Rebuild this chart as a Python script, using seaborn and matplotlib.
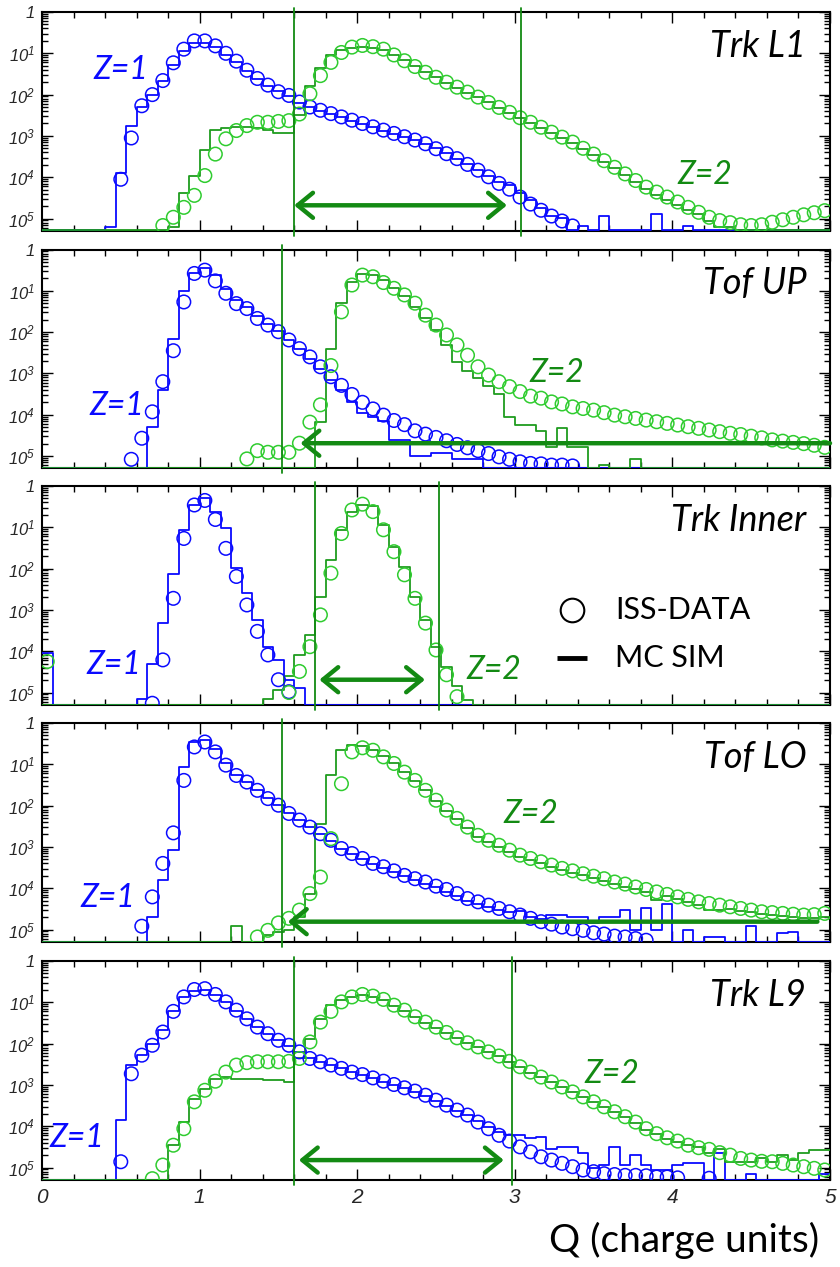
import numpy as np
import matplotlib
matplotlib.use("Agg")
import matplotlib.pyplot as plt
import matplotlib.transforms as mtransforms
from matplotlib.ticker import LogLocator, NullFormatter, MultipleLocator
import seaborn as sns

# ---------------------------------------------------------------------------
# Data: log10 of normalised counts per bin.  Bins are 1/15 charge unit wide
# over Q = 0..5 (75 bins); each list starts at the given bin index.
# None = empty bin.
# ---------------------------------------------------------------------------
N_BINS = 75
Q_MAX = 5.0

panel_names = ["Trk L1", "Tof UP", "Trk Inner", "Tof LO", "Trk L9"]

# ---- Trk L1 ----
l1_z1_data_start = 7
l1_z1_data = [-4.05, -3.05, -2.27, -2.0, -1.66, -1.23, -0.9, -0.7, -0.7, -0.82,
              -1.0, -1.19, -1.41, -1.61, -1.77, -1.93, -2.02, -2.18, -2.30, -2.38,
              -2.46, -2.54, -2.62, -2.70, -2.78, -2.86, -2.94, -3.02, -3.10, -3.19,
              -3.31, -3.43, -3.55, -3.69, -3.83, -3.99, -4.15, -4.29, -4.48, -4.65,
              -4.80, -4.94, -5.06, -5.18]
l1_z1_mc_start = 6
l1_z1_mc = [-5.2, -3.9, -2.75, -2.3, -2.02, -1.68, -1.28, -0.95, -0.75, -0.74,
            -0.84, -1.03, -1.2, -1.42, -1.62, -1.78, -1.92, -2.04, -2.2, -2.3,
            -2.4, -2.47, -2.55, -2.63, -2.7, -2.78, -2.87, -2.95, -3.02, -3.1,
            -3.2, -3.3, -3.42, -3.55, -3.68, -3.82, -3.97, -4.12, -4.2, -4.39,
            -4.55, -4.75, -4.95, -4.98, None, -5.19, None, -4.93, None, None,
            None, None, -4.88, None, None, -5.19]
l1_z2_data_start = 11
l1_z2_data = [-5.17, -4.97, -4.73, -4.44, -3.96, -3.44, -3.07, -2.87, -2.75, -2.67,
              -2.67, -2.65, -2.63, -2.47, -1.98, -1.54, -1.22, -0.98, -0.85, -0.81,
              -0.84, -0.90, -1.04, -1.18, -1.32, -1.46, -1.58, -1.70, -1.82, -1.94,
              -2.06, -2.19, -2.31, -2.43, -2.56, -2.67, -2.79, -2.91, -3.03, -3.15,
              -3.30, -3.44, -3.60, -3.76, -3.92, -4.08, -4.24, -4.36, -4.48, -4.60,
              -4.73, -4.85, -4.97, -5.05, -5.10, -5.15, -5.17, -5.15, -5.09, -5.03,
              -4.97, -4.91, -4.86, -4.81]
l1_z2_mc_start = 12
l1_z2_mc = [-5.2, -4.38, -3.98, -3.35, -2.85, -2.80, -2.78, -2.78, -2.80, -2.85,
            -2.92, -2.92, -2.50, -1.80, -1.35, -1.05, -0.93, -0.87, -0.84, -0.86,
            -0.93, -1.05, -1.17, -1.31, -1.45, -1.58, -1.71, -1.83, -1.95, -2.07,
            -2.19, -2.32, -2.44, -2.56, -2.68, -2.80, -2.92, -3.04, -3.16, -3.31,
            -3.46, -3.62, -3.78, -3.95, -4.12, -4.28, -4.42, -4.55, -4.68, -4.80,
            -4.88, -5.05, -5.2, -5.2]

# ---- Tof UP ----
up_z1_data_start = 8
up_z1_data = [-5.08, -4.57, -3.93, -3.20, -2.45, -1.27, -0.58, -0.50, -0.76, -1.06,
              -1.31, -1.43, -1.67, -1.83, -1.99, -2.19, -2.40, -2.60, -2.84, -3.08,
              -3.29, -3.51, -3.70, -3.86, -4.01, -4.14, -4.24, -4.39, -4.47, -4.55,
              -4.63, -4.72, -4.80, -4.87, -4.94, -5.02, -5.08, -5.14, -5.18, -5.19,
              -5.22, -5.22, -5.24]
up_z1_mc_start = 10
up_z1_mc = [-4.30, -3.41, -2.16, -1.00, -0.57, -0.45, -0.62, -0.95, -1.22, -1.40,
            -1.62, -1.80, -1.98, -2.20, -2.42, -2.65, -2.90, -3.15, -3.40, -3.70,
            -3.95, -4.05, -4.15, -4.60, -4.62, -5.0, -5.0, -4.93, -4.93, -5.07,
            -5.07, -5.07]
up_z2_data_start = 19
up_z2_data = [-5.07, -4.87, -4.91, -4.91, -4.91, -4.69, -4.18, -3.76, -2.81, -1.51,
              -0.86, -0.62, -0.66, -0.80, -0.94, -1.10, -1.30, -1.59, -1.83, -2.07,
              -2.31, -2.56, -2.84, -3.04, -3.20, -3.32, -3.44, -3.55, -3.60, -3.69,
              -3.74, -3.81, -3.85, -3.89, -3.95, -4.01, -4.05, -4.09, -4.13, -4.17,
              -4.21, -4.25, -4.29, -4.33, -4.37, -4.41, -4.45, -4.48, -4.52, -4.56,
              -4.61, -4.64, -4.67, -4.70, -4.74, -4.79]
up_z2_mc_start = 26
up_z2_mc = [-4.18, -2.42, -1.29, -0.78, -0.60, -0.62, -0.75, -0.92, -1.12, -1.38,
            -1.65, -1.95, -2.30, -2.72, -2.95, -3.10, -3.30, -3.50, -4.05, -4.25,
            -4.25, -4.40, -4.77, -4.33, -4.77, -4.77, None, -5.22, None, None,
            -5.06]

# ---- Trk Inner ----
in_z1_data_start = 10
in_z1_data = [-5.26, -4.21, -2.72, -1.27, -0.46, -0.35, -0.81, -1.51, -2.19, -2.88,
              -3.52, -4.09, -4.69, -4.98]
in_z1_mc_start = 0
in_z1_mc = [-4.05, None, None, None, None, None, None, None, None, -5.16,
            -4.30, -3.32, -2.13, -1.06, -0.46, -0.30, -0.62, -1.02, -1.99, -2.60,
            -3.24, -3.89, -4.21, -4.69, -4.90]
in_z2_data_start = 0
in_z2_data = [-4.25, None, None, None, None, None, None, None, None, None,
              None, None, None, None, None, None, None, None, None, None,
              None, None, None, -5.00, -4.49, -3.89, -3.12, -2.11, -1.15, -0.58,
              -0.44, -0.62, -1.06, -1.59, -2.15, -2.72, -3.32, -3.97, -4.57, -5.10]
in_z2_mc_start = 21
in_z2_mc = [-5.16, -4.93, -4.6, -4.1, -3.6, -2.68, -1.79, -1.06, -0.62, -0.46,
            -0.48, -0.95, -1.47, -1.95, -2.68, -3.24, -3.89, -4.37, -4.85, -5.18]

# ---- Tof LO ----
lo_z1_data_start = 9
lo_z1_data = [-4.92, -4.21, -3.40, -2.66, -1.39, -0.58, -0.46, -0.70, -1.02, -1.27,
              -1.43, -1.63, -1.83, -1.99, -2.19, -2.35, -2.52, -2.68, -2.84, -3.04,
              -3.16, -3.28, -3.40, -3.48, -3.58, -3.69, -3.77, -3.85, -3.95, -4.03,
              -4.13, -4.25, -4.33, -4.41, -4.49, -4.57, -4.65, -4.73, -4.81, -4.87,
              -4.94, -4.98, -5.02, -5.08, -5.11, -5.16, -5.18, -5.22, -5.26]
lo_z1_mc_start = 10
lo_z1_mc = [-4.69, -3.81, -3.08, -1.06, -0.46, -0.42, -0.62, -0.98, -1.25, -1.42,
            -1.62, -1.82, -1.98, -2.18, -2.34, -2.52, -2.68, -2.86, -3.04, -3.16,
            -3.30, -3.42, -3.50, -3.60, -3.70, -3.80, -3.90, -3.98, -4.08, -4.20,
            -4.30, -4.38, -4.45, -4.52, -4.58, -4.55, -4.69, -4.75, -4.65, -4.65,
            -4.69, -4.69, -4.85, -4.69, -4.69, -4.53, -5.02, -4.49, -5.02, -4.37,
            None, -5.02, None, -5.18, -5.18, None, None, -4.92, None, None,
            -5.08, -5.05]
lo_z2_data_start = 20
lo_z2_data = [-5.18, -5.02, -4.84, -4.73, -4.53, -4.13, -3.73, -2.80, -1.47, -0.70,
              -0.60, -0.66, -0.82, -0.98, -1.19, -1.39, -1.63, -1.87, -2.11, -2.31,
              -2.52, -2.72, -2.84, -2.96, -3.08, -3.20, -3.28, -3.36, -3.44, -3.52,
              -3.58, -3.65, -3.71, -3.77, -3.85, -3.90, -3.97, -4.03, -4.09, -4.15,
              -4.21, -4.27, -4.33, -4.37, -4.41, -4.45, -4.49, -4.53, -4.57, -4.59,
              -4.61, -4.63, -4.65, -4.64, -4.61]
lo_z2_mc_start = 18
lo_z2_mc = [-4.92, None, None, -5.14, -5.05, -5.0, -4.69, -4.13, -2.44, -1.27,
            -0.66, -0.54, -0.56, -0.66, -0.80, -0.98, -1.19, -1.40, -1.63, -1.88,
            -2.12, -2.33, -2.55, -2.75, -2.88, -3.00, -3.12, -3.24, -3.32, -3.40,
            -3.48, -3.55, -3.62, -3.68, -3.75, -3.82, -3.90, -3.97, -4.03, -4.10,
            -4.28, -4.20, -4.27, -4.33, -4.40, -4.52, -4.52, -4.50, -4.55, -4.58,
            -4.62, -4.65, -4.68, -4.70, -4.72, -4.72, -4.70]

# ---- Trk L9 ----
l9_z1_data_start = 7
l9_z1_data = [-4.86, -2.73, -2.28, -2.04, -1.72, -1.22, -0.87, -0.69, -0.67, -0.81,
              -0.99, -1.19, -1.40, -1.60, -1.76, -1.92, -2.04, -2.20, -2.36, -2.44,
              -2.52, -2.60, -2.69, -2.75, -2.83, -2.91, -2.99, -3.07, -3.15, -3.25,
              -3.37, -3.49, -3.61, -3.73, -3.90, -4.06, -4.22, -4.36, -4.50, -4.62,
              -4.74, -4.82, -4.90, -4.98, -5.06, -5.10, -5.15, -5.17, -5.19, -5.19,
              -5.20, -5.23, -5.23, -5.25, None, None, -5.26]
l9_z1_mc_start = 7
l9_z1_mc = [-3.85, -2.52, -2.28, -2.0, -1.68, -1.2, -0.88, -0.72, -0.70, -0.82,
            -1.0, -1.2, -1.4, -1.6, -1.77, -1.92, -2.05, -2.2, -2.35, -2.44,
            -2.52, -2.60, -2.68, -2.76, -2.84, -2.92, -3.0, -3.08, -3.17, -3.27,
            -3.38, -3.5, -3.62, -3.74, -3.88, -4.02, -4.15, -4.22, -4.22, -4.29,
            -4.26, -4.54, -4.50, -4.50, -4.66, -5.02, -4.94, -4.50, -4.94, -4.70,
            -4.94, -5.06, -5.06, -4.94, -4.90, -4.90, None, -4.66, None, None,
            -5.15, None, None, None, None, None, None, -5.15]
l9_z2_data_start = 10
l9_z2_data = [-5.27, -4.94, -4.46, -4.06, -3.41, -3.13, -2.91, -2.69, -2.52, -2.46,
              -2.44, -2.44, -2.44, -2.43, -2.36, -1.96, -1.48, -1.22, -0.99, -0.87,
              -0.81, -0.85, -0.93, -1.07, -1.19, -1.35, -1.48, -1.60, -1.73, -1.86,
              -1.98, -2.08, -2.20, -2.30, -2.43, -2.56, -2.69, -2.81, -2.93, -3.05,
              -3.17, -3.29, -3.41, -3.53, -3.65, -3.77, -3.90, -4.06, -4.18, -4.28,
              -4.36, -4.46, -4.52, -4.56, -4.64, -4.70, -4.78, -4.82, -4.85, -4.86,
              -4.90, -4.94, -4.98, -5.02, -5.06]
l9_z2_mc_start = 12
l9_z2_mc = [-4.46, -3.90, -3.33, -3.09, -2.85, -2.81, -2.85, -2.85, -2.85, -2.89,
            -2.89, -2.93, -2.36, -1.88, -1.40, -1.07, -0.95, -0.87, -0.83, -0.87,
            -0.95, -1.08, -1.20, -1.36, -1.49, -1.61, -1.74, -1.87, -1.99, -2.09,
            -2.21, -2.31, -2.44, -2.57, -2.70, -2.82, -2.94, -3.06, -3.18, -3.30,
            -3.42, -3.54, -3.66, -3.78, -3.92, -4.08, -4.20, -4.30, -4.38, -4.46,
            -4.50, -4.66, -4.54, -4.86, -4.86, -4.86, -4.78, -4.86, -4.70, -4.82,
            -4.66, -4.58, -4.58]

# Selection cuts (Q) and arrows (Q from, Q to, log10 height)
cut_lines = [[1.60, 3.04], [1.52], [1.73, 2.52], [1.52], [1.60, 2.98]]
arrows = [(1.60, 2.95, -4.68, "<->"), (5.0, 1.64, -4.69, "->"),
          (1.76, 2.43, -4.69, "<->"), (4.92, 1.56, -4.81, "->"),
          (1.63, 2.93, -4.82, "<->")]
z1_label_pos = [(0.065, 0.734), (0.06, 0.284), (0.056, 0.183), (0.049, 0.197), (0.01, 0.19)]
z2_label_pos = [(0.806, 0.252), (0.619, 0.436), (0.538, 0.156), (0.586, 0.583), (0.688, 0.484)]

ytick_vals = [1e-5, 1e-4, 1e-3, 1e-2, 1e-1, 1.0]
ytick_labels = ["10$^{5}$", "10$^{4}$", "10$^{3}$", "10$^{2}$", "10$^{1}$", "1"]
xtick_vals = [0, 1, 2, 3, 4, 5]
xtick_labels = ["0", "1", "2", "3", "4", "5"]

series = [
    (l1_z1_data_start, l1_z1_data, l1_z1_mc_start, l1_z1_mc,
     l1_z2_data_start, l1_z2_data, l1_z2_mc_start, l1_z2_mc),
    (up_z1_data_start, up_z1_data, up_z1_mc_start, up_z1_mc,
     up_z2_data_start, up_z2_data, up_z2_mc_start, up_z2_mc),
    (in_z1_data_start, in_z1_data, in_z1_mc_start, in_z1_mc,
     in_z2_data_start, in_z2_data, in_z2_mc_start, in_z2_mc),
    (lo_z1_data_start, lo_z1_data, lo_z1_mc_start, lo_z1_mc,
     lo_z2_data_start, lo_z2_data, lo_z2_mc_start, lo_z2_mc),
    (l9_z1_data_start, l9_z1_data, l9_z1_mc_start, l9_z1_mc,
     l9_z2_data_start, l9_z2_data, l9_z2_mc_start, l9_z2_mc),
]

# ---------------------------------------------------------------------------
BLUE = "#0a0aff"
GREEN_DATA = "#2fcc2f"
GREEN_MC = "#1f9c1f"
GREEN_DARK = "#138a13"
YMIN = 10 ** -5.29
YMAX = 1.0

sns.set_theme(style="ticks")
plt.rcParams["font.family"] = ["Lato", "DejaVu Sans"]
plt.rcParams["mathtext.fontset"] = "custom"
plt.rcParams["mathtext.rm"] = "Liberation Sans:italic"
plt.rcParams["mathtext.it"] = "Liberation Sans:italic"
plt.rcParams["mathtext.default"] = "it"

edges = np.arange(N_BINS + 1) / N_BINS * Q_MAX
centers = (edges[:-1] + edges[1:]) / 2


def expand(start, vals):
    arr = np.full(N_BINS, np.nan)
    for i, v in enumerate(vals):
        if v is not None and start + i < N_BINS:
            arr[start + i] = v
    return arr


def draw_mc(ax, start, vals, color):
    arr = expand(start, vals)
    y = np.where(np.isnan(arr), YMIN, 10 ** arr)
    y = np.append(y, y[-1])
    sns.lineplot(x=edges, y=y, ax=ax, color=color, lw=1.3, drawstyle="steps-post",
                 estimator=None, sort=False, legend=False, zorder=3, clip_on=True)


def draw_data(ax, start, vals, color):
    arr = expand(start, vals)
    m = ~np.isnan(arr)
    sns.scatterplot(x=centers[m], y=10 ** arr[m], ax=ax, marker="o", s=95,
                    facecolors="none", edgecolor=color, linewidth=1.1,
                    legend=False, zorder=4, clip_on=True)


W, H = 840, 1267
fig = plt.figure(figsize=(W / 100, H / 100), dpi=100)
tops = [12, 249.5, 486, 723, 961]
panel_h = 218.5
left, right = 42, 830

for i, name in enumerate(panel_names):
    ax = fig.add_axes([left / W, 1 - (tops[i] + panel_h) / H, (right - left) / W, panel_h / H])
    ax.set_yscale("log")
    ax.set_xlim(0, Q_MAX)
    ax.set_ylim(YMIN, YMAX)
    (d1s, d1, m1s, m1, d2s, d2, m2s, m2) = series[i]
    draw_mc(ax, m1s, m1, BLUE)
    draw_mc(ax, m2s, m2, GREEN_MC)
    draw_data(ax, d1s, d1, BLUE)
    draw_data(ax, d2s, d2, GREEN_DATA)

    # cut lines
    trans = mtransforms.blended_transform_factory(ax.transData, ax.transAxes)
    for q in cut_lines[i]:
        ax.plot([q, q], [-0.025, 1.02], transform=trans, color=GREEN_DARK, lw=1.3,
                clip_on=False, zorder=5)
    x0, x1, ly, style = arrows[i]
    ax.annotate("", xy=(x1, 10 ** ly), xytext=(x0, 10 ** ly),
                arrowprops=dict(arrowstyle=style + ",head_length=0.55,head_width=0.45",
                                color=GREEN_DARK, lw=3.2, shrinkA=0, shrinkB=0,
                                mutation_scale=20),
                annotation_clip=False, zorder=6)

    # labels
    ax.text(0.97, 0.795, name, transform=ax.transAxes, ha="right", va="baseline",
            fontsize=26, style="italic", color="black")
    ax.text(*z1_label_pos[i], "Z=1", transform=ax.transAxes, ha="left", va="center",
            fontsize=23, style="italic", color=BLUE)
    ax.text(*z2_label_pos[i], "Z=2", transform=ax.transAxes, ha="left", va="center",
            fontsize=23, style="italic", color=GREEN_DARK)

    # axes styling
    for sp in ax.spines.values():
        sp.set_visible(True)
        sp.set_linewidth(1.5)
        sp.set_color("black")
    ax.set_yticks(ytick_vals, ytick_labels, fontsize=12, fontstyle="italic",
                  fontfamily="Liberation Sans")
    ax.yaxis.set_minor_locator(LogLocator(base=10, subs=np.arange(2, 10), numticks=30))
    ax.yaxis.set_minor_formatter(NullFormatter())
    ax.xaxis.set_major_locator(MultipleLocator(1))
    ax.xaxis.set_minor_locator(MultipleLocator(0.2))
    ax.tick_params(axis="both", which="both", direction="in", top=True, right=True,
                   color="black", width=1.0)
    ax.tick_params(axis="y", which="major", length=8, pad=5)
    ax.tick_params(axis="y", which="minor", length=4)
    ax.tick_params(axis="x", which="major", length=8)
    ax.tick_params(axis="x", which="minor", length=4.5)
    ax.set_xlabel("")
    ax.set_ylabel("")
    if i == len(panel_names) - 1:
        ax.set_xticks(xtick_vals, xtick_labels, fontsize=15, fontstyle="italic",
                      fontfamily="Liberation Sans")
        ax.tick_params(axis="x", which="major", pad=6)
    else:
        ax.set_xticklabels([])

    if name == "Trk Inner":
        ax.plot([0.673], [0.431], transform=ax.transAxes, marker="o", ms=17,
                mfc="none", mec="black", mew=1.5, clip_on=False)
        ax.plot([0.654, 0.692], [0.211, 0.211], transform=ax.transAxes, lw=3.5,
                color="black", solid_capstyle="butt")
        ax.text(0.727, 0.431, "ISS-DATA", transform=ax.transAxes, ha="left",
                va="center", fontsize=22, color="black")
        ax.text(0.727, 0.211, "MC SIM", transform=ax.transAxes, ha="left",
                va="center", fontsize=22, color="black")

fig.text(819 / W, 1 - 1252 / H, "Q (charge units)", ha="right", va="baseline",
         fontsize=28, color="black")

fig.savefig("out.png", dpi=100)
